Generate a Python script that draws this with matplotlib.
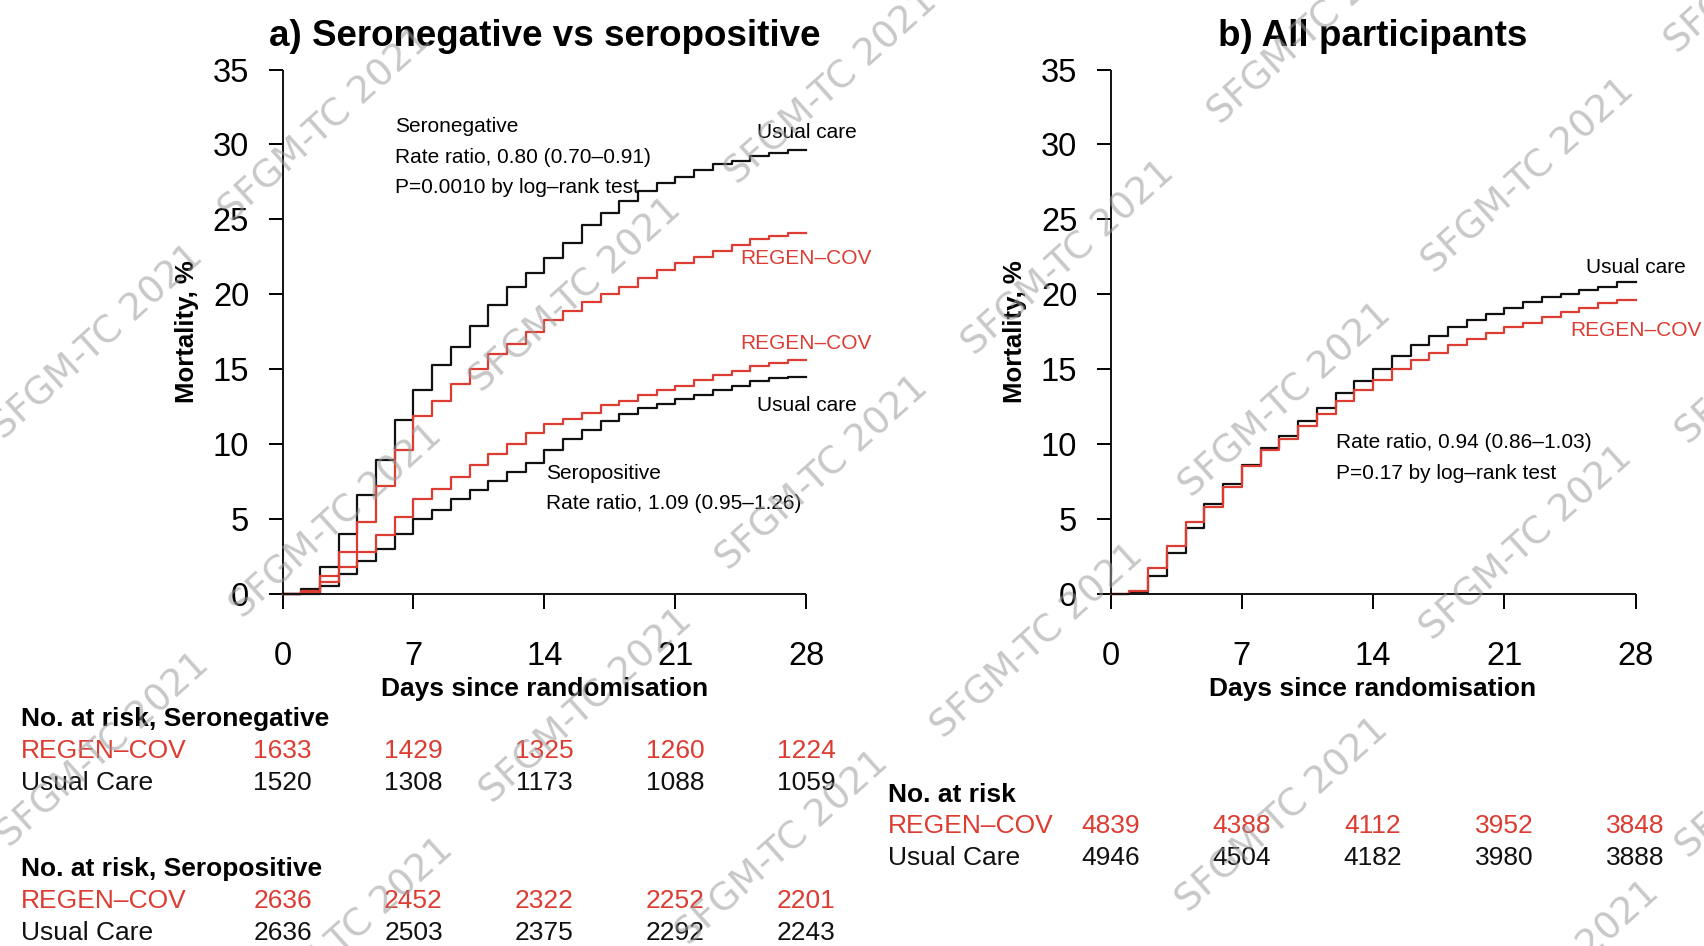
import matplotlib
matplotlib.use("Agg")
import matplotlib.pyplot as plt
from matplotlib.transforms import blended_transform_factory

plt.rcParams['font.family'] = ['Liberation Sans', 'DejaVu Sans']

# ---------------- data ----------------
days = list(range(29))
xticks = [0, 7, 14, 21, 28]
yticks = [0, 5, 10, 15, 20, 25, 30, 35]

seroneg_usual = [0, 0.3, 1.8, 4.0, 6.6, 8.9, 11.6, 13.6, 15.3, 16.5, 17.9, 19.3, 20.5, 21.4,
                 22.4, 23.4, 24.6, 25.4, 26.2, 26.9, 27.4, 27.8, 28.3, 28.7, 28.9, 29.2, 29.4, 29.6, 29.6]
seroneg_regen = [0, 0.2, 1.2, 2.8, 4.8, 7.2, 9.6, 11.9, 12.9, 14.0, 15.0, 16.0, 16.7, 17.5,
                 18.3, 18.9, 19.5, 20.0, 20.5, 21.1, 21.6, 22.1, 22.5, 22.9, 23.3, 23.7, 23.9, 24.1, 24.1]
seropos_usual = [0, 0.0, 0.5, 1.3, 2.2, 3.0, 4.0, 5.0, 5.6, 6.3, 6.9, 7.5, 8.1, 8.7,
                 9.6, 10.3, 10.9, 11.5, 12.0, 12.4, 12.7, 13.0, 13.3, 13.6, 13.9, 14.2, 14.4, 14.5, 14.5]
seropos_regen = [0, 0.1, 0.8, 1.8, 2.8, 3.9, 5.1, 6.3, 7.0, 7.8, 8.6, 9.3, 10.0, 10.7,
                 11.3, 11.7, 12.1, 12.6, 12.9, 13.3, 13.6, 13.9, 14.3, 14.6, 14.9, 15.2, 15.4, 15.6, 15.6]
all_usual = [0, 0.1, 1.2, 2.7, 4.4, 6.0, 7.3, 8.6, 9.7, 10.5, 11.5, 12.4, 13.4, 14.2,
             15.0, 15.9, 16.6, 17.2, 17.8, 18.3, 18.7, 19.1, 19.5, 19.8, 20.0, 20.3, 20.5, 20.8, 20.8]
all_regen = [0, 0.2, 1.7, 3.2, 4.8, 5.8, 7.1, 8.5, 9.6, 10.3, 11.2, 12.0, 12.9, 13.6,
             14.3, 15.0, 15.6, 16.1, 16.6, 17.0, 17.4, 17.8, 18.1, 18.5, 18.8, 19.1, 19.4, 19.6, 19.6]

risk_seroneg_regen = [1633, 1429, 1325, 1260, 1224]
risk_seroneg_usual = [1520, 1308, 1173, 1088, 1059]
risk_seropos_regen = [2636, 2452, 2322, 2252, 2201]
risk_seropos_usual = [2636, 2503, 2375, 2292, 2243]
risk_all_regen = [4839, 4388, 4112, 3952, 3848]
risk_all_usual = [4946, 4504, 4182, 3980, 3888]

RED = '#dc3c32'
BLACK = '#111111'

W, H = 1704, 946
fig = plt.figure(figsize=(W / 100, H / 100), dpi=100)

def fx(px):
    return px / W

def fy(py):
    return 1 - py / H

def setup(ax):
    ax.set_xlim(0, 28)
    ax.set_ylim(0, 35)
    for s in ['top', 'right']:
        ax.spines[s].set_visible(False)
    for s in ['left', 'bottom']:
        ax.spines[s].set_linewidth(1.4)
        ax.spines[s].set_color(BLACK)
        ax.spines[s].set_capstyle('butt')
    ax.set_xticks(xticks)
    ax.set_yticks(yticks)
    ax.tick_params(axis='x', length=11, width=1.4, pad=23, labelsize=23.5)
    ax.tick_params(axis='y', length=10, width=1.4, pad=14, labelsize=23.5)
    ax.set_xlabel('Days since randomisation', fontsize=19, fontweight='bold', va='center')
    ax.xaxis.set_label_coords(0.5, -0.181)
    ax.set_ylabel('Mortality, %', fontsize=18.5, fontweight='bold')
    ax.yaxis.set_label_coords(-0.159, 0.5)

axa = fig.add_axes([fx(282.5), fy(593.7), fx(806.4) - fx(282.5), fy(69.6) - fy(593.7)])
axb = fig.add_axes([fx(1110.6), fy(593.7), fx(1635.5) - fx(1110.6), fy(69.6) - fy(593.7)])
for ax in (axa, axb):
    setup(ax)

lw = 1.6
axa.step(days, seroneg_usual, where='post', color=BLACK, lw=lw, clip_on=False)
axa.step(days, seroneg_regen, where='post', color=RED, lw=lw, clip_on=False)
axa.step(days, seropos_usual, where='post', color=BLACK, lw=lw, clip_on=False)
axa.step(days, seropos_regen, where='post', color=RED, lw=lw, clip_on=False)
axb.step(days, all_usual, where='post', color=BLACK, lw=lw, clip_on=False)
axb.step(days, all_regen, where='post', color=RED, lw=lw, clip_on=False)

axa.text(0.5, 1.064, 'a) Seronegative vs seropositive', transform=axa.transAxes,
         ha='center', va='center', fontsize=26.5, fontweight='bold')
axb.text(0.5, 1.064, 'b) All participants', transform=axb.transAxes,
         ha='center', va='center', fontsize=26.5, fontweight='bold')

fs_ann = 15
axa.text(6.0, 31.2, 'Seronegative', fontsize=fs_ann, va='center', clip_on=False)
axa.text(6.0, 29.1, 'Rate ratio, 0.80 (0.70–0.91)', fontsize=fs_ann, va='center', clip_on=False)
axa.text(6.0, 27.1, 'P=0.0010 by log–rank test', fontsize=fs_ann, va='center', clip_on=False)
axa.text(14.1, 8.06, 'Seropositive', fontsize=fs_ann, va='center', clip_on=False)
axa.text(14.1, 6.03, 'Rate ratio, 1.09 (0.95–1.26)', fontsize=fs_ann, va='center', clip_on=False)
axa.text(28, 30.8, 'Usual care', fontsize=fs_ann, ha='center', va='center', clip_on=False)
axa.text(28, 22.4, 'REGEN–COV', fontsize=fs_ann, ha='center', va='center', color=RED, clip_on=False)
axa.text(28, 16.7, 'REGEN–COV', fontsize=fs_ann, ha='center', va='center', color=RED, clip_on=False)
axa.text(28, 12.6, 'Usual care', fontsize=fs_ann, ha='center', va='center', clip_on=False)

axb.text(12.0, 10.1, 'Rate ratio, 0.94 (0.86–1.03)', fontsize=fs_ann, va='center', clip_on=False)
axb.text(12.0, 8.06, 'P=0.17 by log–rank test', fontsize=fs_ann, va='center', clip_on=False)
axb.text(28, 21.8, 'Usual care', fontsize=fs_ann, ha='center', va='center', clip_on=False)
axb.text(28, 17.6, 'REGEN–COV', fontsize=fs_ann, ha='center', va='center', color=RED, clip_on=False)

# ---------------- numbers at risk ----------------
fs_num = 19
fs_head = 19
ta = blended_transform_factory(axa.transData, fig.transFigure)
tb = blended_transform_factory(axb.transData, fig.transFigure)

fig.text(fx(20.6), fy(718.8), 'No. at risk, Seronegative', fontsize=fs_head, fontweight='bold', va='center')
fig.text(fx(20.6), fy(751), 'REGEN–COV', fontsize=fs_num, color=RED, va='center')
fig.text(fx(20.6), fy(783), 'Usual Care', fontsize=fs_num, color=BLACK, va='center')
fig.text(fx(20.6), fy(868.8), 'No. at risk, Seropositive', fontsize=fs_head, fontweight='bold', va='center')
fig.text(fx(20.6), fy(901.4), 'REGEN–COV', fontsize=fs_num, color=RED, va='center')
fig.text(fx(20.6), fy(933), 'Usual Care', fontsize=fs_num, color=BLACK, va='center')
for x, v in zip(xticks, risk_seroneg_regen):
    fig.text(x, fy(751), str(v), transform=ta, fontsize=fs_num, color=RED, ha='center', va='center')
for x, v in zip(xticks, risk_seroneg_usual):
    fig.text(x, fy(783), str(v), transform=ta, fontsize=fs_num, color=BLACK, ha='center', va='center')
for x, v in zip(xticks, risk_seropos_regen):
    fig.text(x, fy(901.4), str(v), transform=ta, fontsize=fs_num, color=RED, ha='center', va='center')
for x, v in zip(xticks, risk_seropos_usual):
    fig.text(x, fy(933), str(v), transform=ta, fontsize=fs_num, color=BLACK, ha='center', va='center')

fig.text(fx(888), fy(795), 'No. at risk', fontsize=fs_head, fontweight='bold', va='center')
fig.text(fx(888), fy(826.4), 'REGEN–COV', fontsize=fs_num, color=RED, va='center')
fig.text(fx(888), fy(858), 'Usual Care', fontsize=fs_num, color=BLACK, va='center')
for x, v in zip(xticks, risk_all_regen):
    fig.text(x, fy(826.4), str(v), transform=tb, fontsize=fs_num, color=RED, ha='center', va='center')
for x, v in zip(xticks, risk_all_usual):
    fig.text(x, fy(858), str(v), transform=tb, fontsize=fs_num, color=BLACK, ha='center', va='center')

# ---------------- watermarks ----------------
wm_centers = [(90, 315), (300, 115), (765, 80), (530, 272), (310, 480), (757, 435),
              (983, 238), (1210, 25), (1407, 162), (1183, 368), (1405, 500), (955, 590),
              (1180, 750), (540, 650), (720, 780), (95, 690), (320, 860), (1430, 900),
              (1640, 320), (1640, 700), (1630, -40)]
for cx, cy in wm_centers:
    fig.text(cx / 1568, 1 - cy / 870, 'SFGM-TC 2021', fontsize=27, color='#9a9a9a',
             alpha=0.55, rotation=42, ha='center', va='center', rotation_mode='anchor',
             family=['DejaVu Sans'], zorder=20)

fig.savefig('out.png', dpi=100)
